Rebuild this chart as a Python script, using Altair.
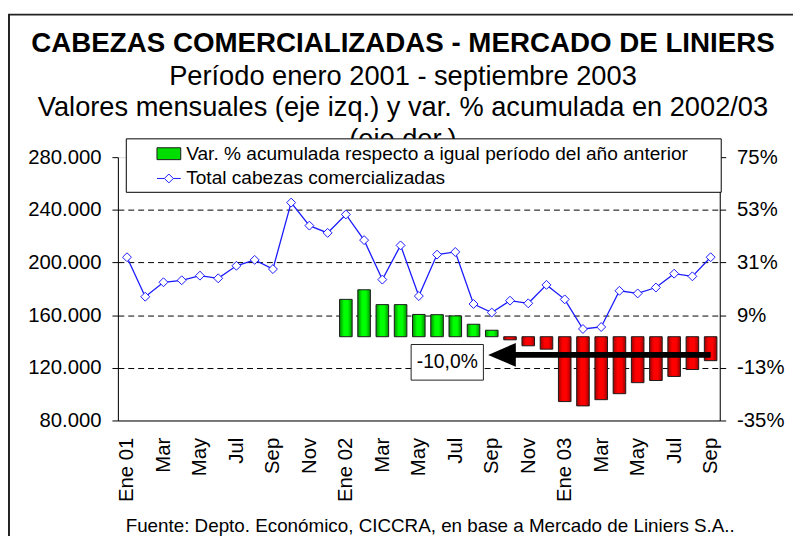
import json
import altair as alt
import pandas as pd

FONT = "Liberation Sans, Arial, sans-serif"

# ---------------- data ----------------
meses = ["Ene 01", "Feb 01", "Mar 01", "Abr 01", "May 01", "Jun 01", "Jul 01", "Ago 01", "Sep 01",
         "Oct 01", "Nov 01", "Dic 01", "Ene 02", "Feb 02", "Mar 02", "Abr 02", "May 02", "Jun 02",
         "Jul 02", "Ago 02", "Sep 02", "Oct 02", "Nov 02", "Dic 02", "Ene 03", "Feb 03", "Mar 03",
         "Abr 03", "May 03", "Jun 03", "Jul 03", "Ago 03", "Sep 03"]
etiquetas_x = ["Ene 01", "Feb", "Mar", "Abr", "May", "Jun", "Jul", "Ago", "Sep", "Oct", "Nov", "Dic",
               "Ene 02", "Feb", "Mar", "Abr", "May", "Jun", "Jul", "Ago", "Sep", "Oct", "Nov", "Dic",
               "Ene 03", "Feb", "Mar", "Abr", "May", "Jun", "Jul", "Ago", "Sep"]
ticks_x = [0, 2, 4, 6, 8, 10, 12, 14, 16, 18, 20, 22, 24, 26, 28, 30, 32]

cabezas = [204000, 174000, 185000, 186500, 190000, 188000, 197500, 202000, 195000,
           245500, 228000, 222500, 236500, 217000, 187000, 213000, 174500, 206000,
           208000, 168500, 162000, 171000, 169000, 183000, 172000, 149500, 151000,
           178500, 176500, 181000, 191500, 189500, 204000]

meses_var = meses[12:]
var_pct = [15.6, 19.6, 13.4, 13.4, 9.3, 9.2, 8.7, 5.2, 2.7,
           -1.3, -3.8, -5.2, -27.1, -28.9, -26.3, -23.8, -19.2, -18.3, -16.6, -13.7, -10.0]

eje_izq = [80000, 120000, 160000, 200000, 240000, 280000]
eje_der = [-35, -13, 9, 31, 53, 75]

series = ["Var. % acumulada respecto a igual período del año anterior",
          "Total cabezas comercializadas"]

# annotation (arrow + label box), in data units
flecha_desde = [32]
flecha_hasta = [21.2]
flecha_punta = [19.8]
flecha_y = [-7.6]
caja_x = [17.56]
caja_y = [-10.7]
caja_texto = ["-10,0%"]

titulo = "CABEZAS COMERCIALIZADAS - MERCADO DE LINIERS"
subtitulo = ["Período enero 2001 - septiembre 2003",
             "Valores mensuales (eje izq.) y var. % acumulada en 2002/03",
             "(eje der.)"]
fuente = "Fuente: Depto. Económico, CICCRA, en base a Mercado de Liniers S.A.."

# ---------------- frames ----------------
df_line = pd.DataFrame({"i": list(range(len(meses))), "mes": meses, "cabezas": cabezas})
df_var = pd.DataFrame({"i": list(range(12, 12 + len(var_pct))), "mes": meses_var, "pct": var_pct})
df_flecha = pd.DataFrame({"i": flecha_desde, "i2": flecha_hasta, "pct": flecha_y})
df_punta = pd.DataFrame({"i": flecha_punta, "pct": flecha_y})
df_caja = pd.DataFrame({"i": caja_x, "pct": caja_y, "texto": caja_texto})
df_leg = pd.DataFrame({"serie": series})

# ---------------- scales / axes ----------------
x_scale = alt.Scale(domain=[-0.5, 32.5], nice=False, zero=False, padding=0)
x_axis = alt.Axis(values=ticks_x, labelExpr=json.dumps(etiquetas_x) + "[datum.value]",
                  labelAngle=270, labelFontSize=20.5, labelPadding=17, labelFont=FONT,
                  labelColor="black", ticks=False, grid=False, domainColor="black",
                  title=fuente, titleFont=FONT, titleFontSize=19, titleFontWeight="normal",
                  titleColor="black", titleX=315, titleY=112, titleBaseline="alphabetic",
                  titleAngle=0)


def X(field="i"):
    return alt.X(f"{field}:Q", scale=x_scale, axis=x_axis)


y_cab = alt.Y("cabezas:Q", scale=alt.Scale(domain=[80000, 280000], nice=False, zero=False),
              axis=alt.Axis(orient="left", values=eje_izq, title=None,
                            labelExpr="replace(format(datum.value, ','), ',', '.')",
                            grid=True, gridDash=[6, 4], gridColor="black", gridWidth=1,
                            gridOpacity={"condition": {"test": "datum.value == 80000 || datum.value == 280000",
                                                       "value": 0}, "value": 1},
                            tickSize=6, tickColor="black", domainColor="black",
                            labelFontSize=20.5, labelPadding=11, labelColor="black", labelFont=FONT))

y_pct_axis = alt.Axis(orient="right", values=eje_der, labelExpr="datum.value + '%'", title=None,
                      grid=False, tickSize=6, tickColor="black", domainColor="black",
                      labelFontSize=20.5, labelPadding=11, labelColor="black", labelFont=FONT)
y_pct_scale = alt.Scale(domain=[-35, 75], nice=False, zero=False)


def Ypct():
    return alt.Y("pct:Q", scale=y_pct_scale, axis=y_pct_axis)


def grad(edge, center):
    return alt.LinearGradient(gradient="linear", x1=0, x2=1, y1=0, y2=0,
                              stops=[alt.GradientStop(color=edge, offset=0),
                                     alt.GradientStop(color=center, offset=0.35),
                                     alt.GradientStop(color=center, offset=0.65),
                                     alt.GradientStop(color=edge, offset=1)])


base_var = alt.Chart(df_var)
barras_pos = base_var.transform_filter("datum.pct >= 0").mark_bar(
    fill=grad("#009000", "#00ff00"), stroke="#1a1a1a", strokeWidth=1, size=12.7
).encode(x=X(), y=Ypct(), y2=alt.datum(0))
barras_neg = base_var.transform_filter("datum.pct < 0").mark_bar(
    fill=grad("#a00000", "#ff0000"), stroke="#1a1a1a", strokeWidth=1, size=12.7
).encode(x=X(), y=Ypct(), y2=alt.datum(0))

flecha = alt.Chart(df_flecha).mark_rule(color="black", strokeWidth=6).encode(
    x=X(), x2=alt.X2("i2:Q"), y=Ypct())
punta = alt.Chart(df_punta).mark_point(
    shape="M0,0L2,-0.86L2,0.86Z", size=784, filled=True, fill="black", strokeWidth=0, opacity=1
).encode(x=X(), y=Ypct())
caja = alt.Chart(df_caja).mark_point(
    shape="M-1,-0.493H1V0.493H-1Z", size=5329, filled=True, fill="white", stroke="#222222",
    strokeWidth=1, opacity=1
).encode(x=X(), y=Ypct())
texto = alt.Chart(df_caja).mark_text(font=FONT, fontSize=19.5, color="black", baseline="middle",
                                     align="center").encode(x=X(), y=Ypct(), text="texto:N")

linea = alt.Chart(df_line).mark_line(color="#1a1aff", strokeWidth=1.3).encode(x=X(), y=y_cab)
puntos = alt.Chart(df_line).mark_point(shape="diamond", size=81, filled=True, fill="white",
                                       stroke="#1a1aff", strokeWidth=1, opacity=1).encode(x=X(), y=y_cab)

leg = alt.Legend(orient="none", legendX=8, legendY=-19, title=" ", titleOrient="right",
                 titlePadding=30, titleFontSize=8, titleColor="transparent",
                 fillColor="white", strokeColor="black", padding=3, rowPadding=2,
                 labelFont=FONT, labelFontSize=19.3, labelColor="black", labelLimit=900,
                 labelOffset=5, symbolOffset=28, symbolSize=576, symbolStrokeWidth=1, zindex=1)
rect_path = "M-1,-0.5H1V0.5H-1Z"
diam_path = "M-1,0H-0.375M0.375,0H1M0,-0.375L0.375,0L0,0.375L-0.375,0Z"
leyenda = alt.Chart(df_leg).transform_filter("false").mark_point(filled=True, opacity=1).encode(
    fill=alt.Fill("serie:N", scale=alt.Scale(domain=series, range=["#00dd00", "white"]), legend=leg),
    stroke=alt.Stroke("serie:N", scale=alt.Scale(domain=series, range=["#1a1a1a", "#1a1aff"]), legend=leg),
    shape=alt.Shape("serie:N", scale=alt.Scale(domain=series, range=[rect_path, diam_path]), legend=leg),
)

marco = alt.Chart(pd.DataFrame({"a": [0]})).mark_rect(
    fill="transparent", stroke="#222222", strokeWidth=2
).encode(x=alt.value(-110), x2=alt.value(720), y=alt.value(-144), y2=alt.value(420))

capa_pct = alt.layer(barras_pos, barras_neg, flecha, punta, caja, texto)
capa_cab = alt.layer(linea, puntos)

chart = alt.layer(capa_pct, capa_cab, leyenda, marco).resolve_scale(
    y="independent"
).properties(
    width=608, height=266,
    padding={"left": 111, "top": 148, "right": 74, "bottom": 114},
    autosize=alt.AutoSizeParams(type="none"),
    title=alt.Title(text=titulo, subtitle=subtitulo, anchor="middle", frame="group", dx=-16,
                    offset=-141, font=FONT, fontSize=28, fontWeight="bold", color="black",
                    subtitleFont=FONT, subtitleFontSize=27.5, subtitleColor="black",
                    subtitleFontWeight="normal", subtitleLineHeight=31.7, subtitlePadding=5,
                    zindex=0),
).configure_view(stroke="transparent").configure(background="white")

chart.save("out.html", embed_options={"renderer": "svg", "actions": False})
